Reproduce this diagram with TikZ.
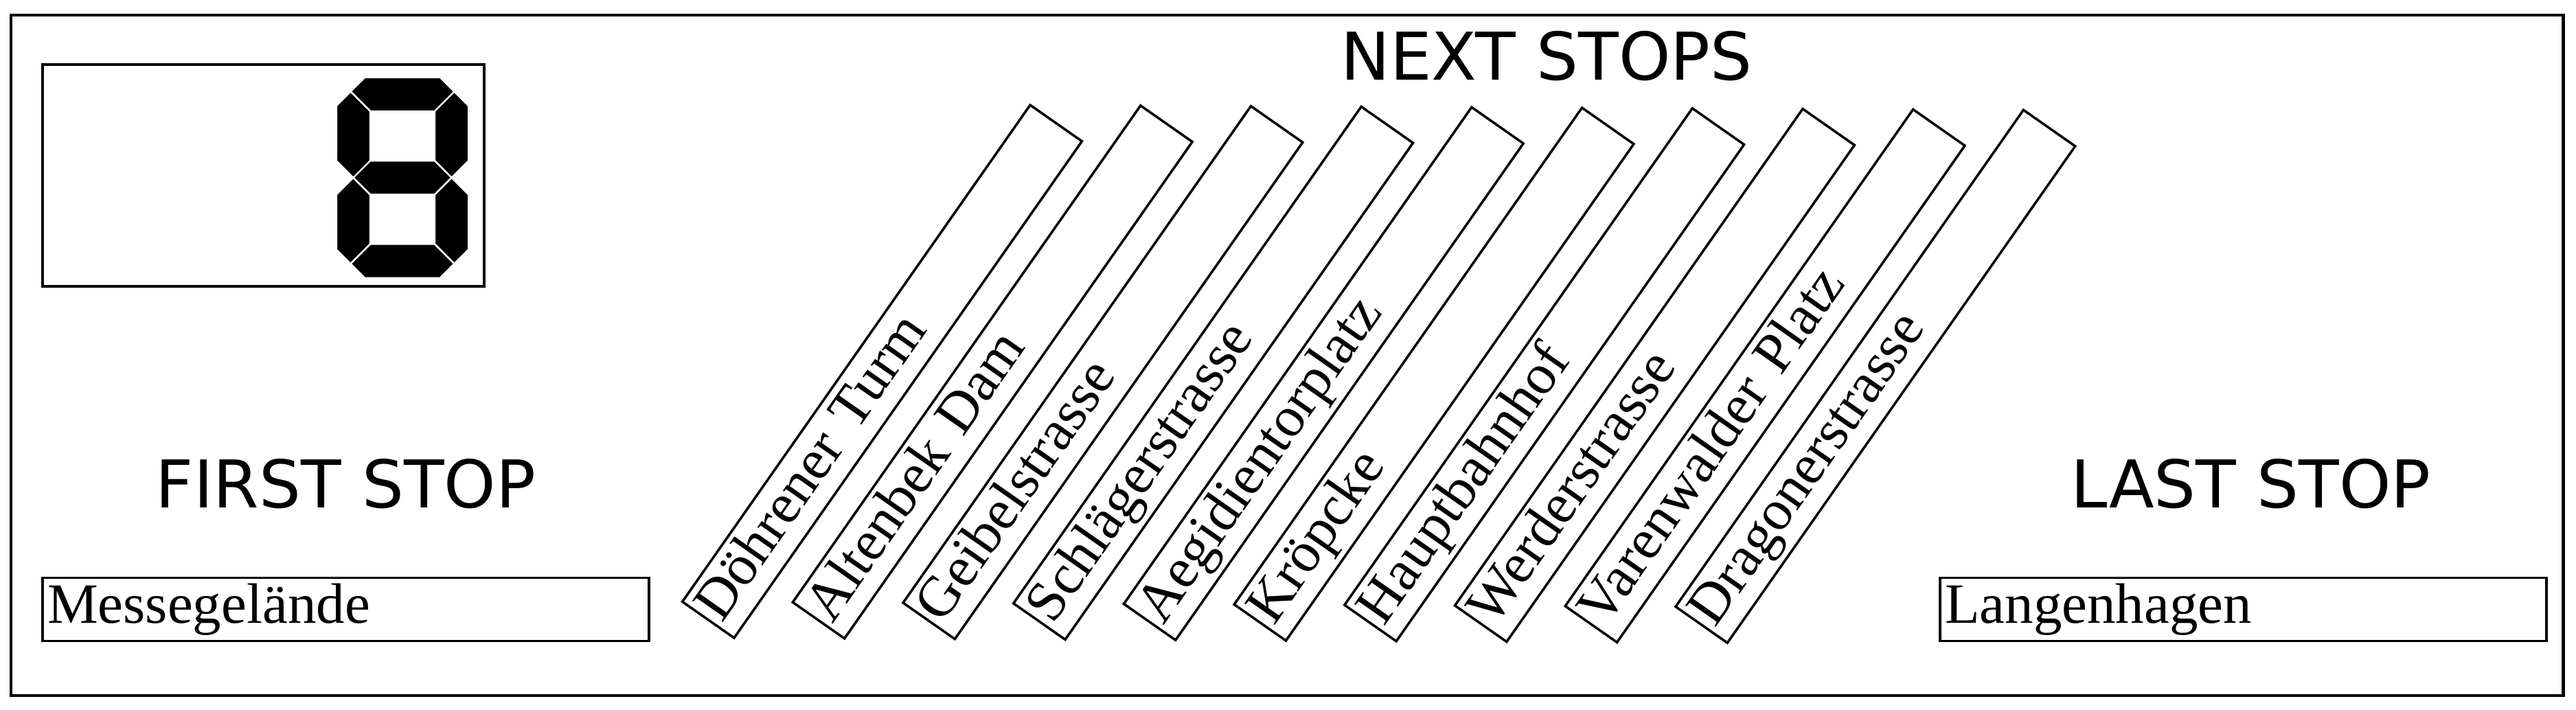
\documentclass[tikz,border=0pt]{standalone}
\usepackage{fontspec}
\setmainfont{Liberation Serif}
\newfontfamily\headfont{DejaVu Sans}
\usetikzlibrary{positioning}

\tikzset{
  stopbox/.style={draw, line width=1pt, text width=8.69cm, inner xsep=0.07cm,
    inner ysep=0pt, minimum height=0.92cm, align=left,
    font=\fontsize{23.6}{28}\selectfont, text height=16.5pt, text depth=5.2pt},
  heading/.style={font=\headfont\fontsize{27.3}{33}\selectfont, inner sep=0pt},
  segment/.style={fill=black, draw=white, line width=0.7pt}
}

\begin{document}
\begin{tikzpicture}
  \useasboundingbox (0,0) rectangle (37.51,10.33);
  \draw[line width=1.4pt] (0.16,0.20) rectangle (37.32,10.11);

  % Define nodes
  \node[draw, line width=1pt, minimum width=6.43cm, minimum height=3.23cm] (display) at (3.835,7.775) {};
  \node[stopbox] (first) at (5.035,1.455) {Messegelände};
  \node[stopbox] (last) at (32.665,1.455) {Langenhagen};
  \node[heading, above=1cm of first, anchor=base] (firstlabel) {FIRST STOP};
  \node[heading, above=1cm of last, anchor=base, xshift=0.11cm] (lastlabel) {LAST STOP};
  \node[heading, anchor=base] (nextlabel) at (22.52,9.16) {NEXT STOPS};

  % Next stops
  \foreach \stop [count=\i from 0] in {Döhrener Turm, Altenbek Dam, Geibelstrasse, Schlägerstrasse, Aegidientorplatz, Kröpcke, Hauptbahnhof, Werderstrasse, Varenwalder Platz, Dragonerstrasse}
    \node[stopbox, rotate=55] (next\i) at (12.845+1.607*\i, 4.92-0.008*\i) {\stop};

  % Seven segment digit
  \begin{scope}[shift={(4.898,9.203)}, x=0.01cm, y=-0.01cm]
    \fill[segment] (41.5,0) -- (151.1,0) -- (171.85,20.75) -- (143.2,49.4) -- (49.4,49.4) -- (20.75,20.75) -- cycle;
    \fill[segment] (20.75,20.75) -- (49.4,49.4) -- (49.4,121.45) -- (24.7,146.15) -- (0,121.45) -- (0,41.5) -- cycle;
    \fill[segment] (171.85,20.75) -- (192.6,41.5) -- (192.6,121.45) -- (167.9,146.15) -- (143.2,121.45) -- (143.2,49.4) -- cycle;
    \fill[segment] (24.7,146.15) -- (49.4,121.45) -- (143.2,121.45) -- (167.9,146.15) -- (143.2,170.85) -- (49.4,170.85) -- cycle;
    \fill[segment] (24.7,146.15) -- (49.4,170.85) -- (49.4,242.9) -- (20.75,271.55) -- (0,250.8) -- (0,170.85) -- cycle;
    \fill[segment] (167.9,146.15) -- (192.6,170.85) -- (192.6,250.8) -- (171.85,271.55) -- (143.2,242.9) -- (143.2,170.85) -- cycle;
    \fill[segment] (20.75,271.55) -- (49.4,242.9) -- (143.2,242.9) -- (171.85,271.55) -- (151.1,292.3) -- (41.5,292.3) -- cycle;
  \end{scope}
\end{tikzpicture}
\end{document}
